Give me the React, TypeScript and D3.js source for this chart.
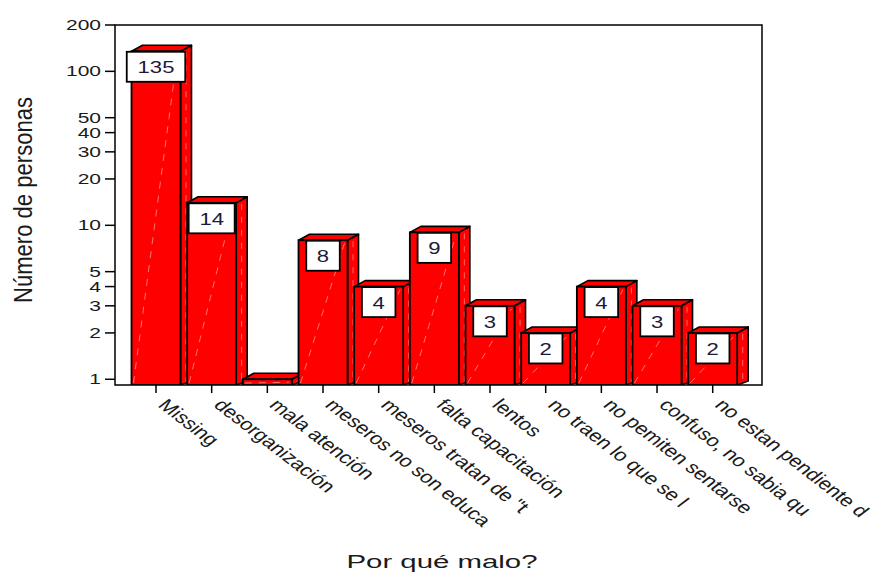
import React from "react";
import * as d3 from "d3";

const categories = [
  "Missing",
  "desorganización",
  "mala atención",
  "meseros no son educa",
  "meseros tratan de \"t",
  "falta capacitación",
  "lentos",
  "no traen lo que se l",
  "no pemiten sentarse",
  "confuso, no sabia qu",
  "no estan pendiente d",
];
const counts = [135, 14, 1, 8, 4, 9, 3, 2, 4, 3, 2];
const yTicks = [1, 2, 3, 4, 5, 10, 20, 30, 40, 50, 100, 200];

const W = 876;
const H = 576;
const left = 115;
const right = 762;
const top = 25;
const bottom = 385;
const FONT = "'Liberation Sans', Arial, Helvetica, sans-serif";
const SX = 1.3; // horizontal stretch applied to text glyphs

export default function App() {
  const y = d3.scaleLog().domain([0.918, 200]).range([bottom, top]);
  const x = d3.scalePoint<string>().domain(categories).range([156, 712.7]);
  const half = 24.5;
  const dx = 11;
  const dy = 6;

  return (
    <svg
      width={W}
      height={H}
      style={{ position: "absolute", left: 0, top: 0, background: "#fff" }}
    >
      <defs>
        <clipPath id="plotClip">
          <rect x={left} y={top} width={right - left} height={bottom - top} />
        </clipPath>
      </defs>

      <g clipPath="url(#plotClip)">
        {categories.map((c, i) => {
          const cx = x(c)!;
          const v = counts[i];
          const x0 = cx - half;
          const x1 = cx + half;
          const yt = y(v);
          const topFace = `M${x0},${yt} L${x0 + dx},${yt - dy} L${x1 + dx},${yt - dy} L${x1},${yt} Z`;
          const sideFace = `M${x1},${yt} L${x1 + dx},${yt - dy} L${x1 + dx},${bottom - dy + 2} L${x1},${bottom} Z`;
          const digits = String(v).length;
          const bw = 21 + 12.5 * digits;
          const bh = 30;
          return (
            <g key={c}>
              <path d={sideFace} fill="#ff0000" stroke="#000" strokeWidth={1.6} strokeLinejoin="round" />
              <line
                x1={x1 + dx / 2}
                y1={yt - dy / 2 + 4}
                x2={x1 + dx / 2}
                y2={bottom - 3}
                stroke="#ffb8b8"
                strokeOpacity={0.55}
                strokeWidth={1}
                strokeDasharray="6,7"
              />
              <path d={topFace} fill="#ff0000" stroke="#000" strokeWidth={1.6} strokeLinejoin="round" />
              <rect x={x0} y={yt} width={x1 - x0} height={bottom - yt} fill="#ff0000" stroke="#000" strokeWidth={1.8} />
              <line
                x1={x0 + 2}
                y1={bottom - 2}
                x2={x1 - 3}
                y2={yt + 3}
                stroke="#ffc0c0"
                strokeOpacity={0.6}
                strokeWidth={1}
                strokeDasharray="7,7"
              />
              {v > 1 && (
                <g>
                  <rect
                    x={cx - bw / 2}
                    y={yt + 0.5}
                    width={bw}
                    height={bh}
                    fill="#fff"
                    stroke="#000"
                    strokeWidth={1.8}
                  />
                  <text
                    transform={`translate(${cx},${yt + bh / 2 + 7}) scale(${SX},1)`}
                    textAnchor="middle"
                    fontFamily={FONT}
                    fontSize={17}
                    fill="#1b1b3a"
                  >
                    {v}
                  </text>
                </g>
              )}
            </g>
          );
        })}
      </g>

      {/* frame */}
      <rect x={left} y={top} width={right - left} height={bottom - top} fill="none" stroke="#000" strokeWidth={1.5} />

      {/* y axis ticks and labels */}
      {yTicks.map((t) => (
        <g key={t}>
          <line x1={left - 10} x2={left} y1={y(t)} y2={y(t)} stroke="#000" strokeWidth={1.5} />
          <text
            transform={`translate(${left - 14},${y(t) + 5}) scale(1.5,1)`}
            textAnchor="end"
            fontFamily={FONT}
            fontSize={14}
            fill="#1a1a1a"
          >
            {t}
          </text>
        </g>
      ))}

      {/* x axis ticks and category labels */}
      {categories.map((c) => {
        const cx = x(c)!;
        return (
          <g key={c}>
            <line x1={cx} x2={cx} y1={bottom} y2={bottom + 8} stroke="#000" strokeWidth={1.5} />
            <text
              transform={`translate(${cx + 1},${bottom + 21}) scale(${SX},1) rotate(45)`}
              fontFamily={FONT}
              fontSize={17}
              fill="#1a1a1a"
            >
              {c}
            </text>
          </g>
        );
      })}

      {/* axis titles */}
      <text
        transform={`translate(31.5,200) scale(${SX},1) rotate(-90)`}
        textAnchor="middle"
        fontFamily={FONT}
        fontSize={20}
        textLength={206}
        lengthAdjust="spacingAndGlyphs"
        fill="#1a1a1a"
      >
        Número de personas
      </text>
      <text
        x={442}
        y={568}
        textAnchor="middle"
        fontFamily={FONT}
        fontSize={18}
        textLength={191}
        lengthAdjust="spacingAndGlyphs"
        fill="#1a1a1a"
      >
        Por qué malo?
      </text>
    </svg>
  );
}
